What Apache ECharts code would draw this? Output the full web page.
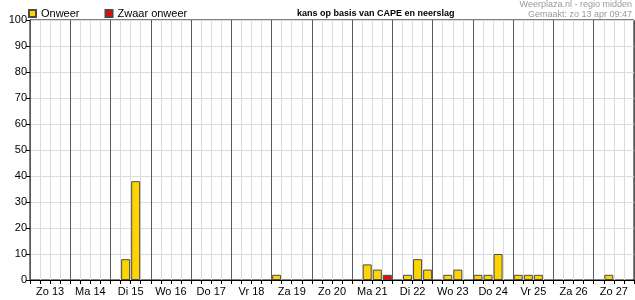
<!DOCTYPE html>
<html>
<head>
<meta charset="utf-8">
<script src="https://cdn.jsdelivr.net/npm/echarts@6/dist/echarts.min.js"></script>
<style>html,body{margin:0;padding:0;background:#fff}#c{width:635px;height:300px}</style>
</head>
<body>
<div id="c"></div>
<script>
// Day labels (each day = 4 six-hour slots)
const days = ['Zo 13','Ma 14','Di 15','Wo 16','Do 17','Vr 18','Za 19','Zo 20','Ma 21','Di 22','Wo 23','Do 24','Vr 25','Za 26','Zo 27'];
const slotsPerDay = 4;
// Onweer (%) per 6-hour slot, 60 slots
const onweer = [
  0,0,0,0,  0,0,0,0,  0,8,38,0,  0,0,0,0,  0,0,0,0,
  0,0,0,0,  2,0,0,0,  0,0,0,0,  0,6,4,0,  0,2,8,4,
  0,2,4,0,  2,2,10,0, 2,2,2,0,  0,0,0,0,  0,2,0,0
];
// Zwaar onweer (%) per 6-hour slot
const zwaar = [
  0,0,0,0,  0,0,0,0,  0,0,0,0,  0,0,0,0,  0,0,0,0,
  0,0,0,0,  0,0,0,0,  0,0,0,0,  0,0,0,2,  0,0,0,0,
  0,0,0,0,  0,0,0,0,  0,0,0,0,  0,0,0,0,  0,0,0,0
];
const yTicks = {min: 0, max: 100, interval: 10};
const titleText = 'kans op basis van CAPE en neerslag';
const sourceText = 'Weerplaza.nl - regio midden';
const madeText = 'Gemaakt: zo 13 apr 09:47';

const slots = [];
for (let i = 0; i < days.length * slotsPerDay; i++) slots.push(String(i));

const FONT = "'Liberation Sans', Arial, sans-serif";
const chart = echarts.init(document.getElementById('c'), null, {renderer: 'canvas'});
chart.setOption({
  animation: false,
  textStyle: {fontFamily: FONT},
  title: [
    {text: titleText, left: 297, top: 9, padding: 0, textStyle: {fontSize: 9, fontWeight: 'bold', color: '#000', fontFamily: FONT}},
    {text: sourceText, right: 3, top: 0, padding: 0, textStyle: {fontSize: 9, fontWeight: 'normal', color: '#9a9a9a', fontFamily: FONT}},
    {text: madeText, right: 3, top: 10, padding: 0, textStyle: {fontSize: 9, fontWeight: 'normal', color: '#9a9a9a', fontFamily: FONT}}
  ],
  legend: {
    left: 23, top: 6, padding: [2, 5],
    itemWidth: 7, itemHeight: 7, itemGap: 25,
    icon: 'rect',
    textStyle: {fontSize: 11, color: '#000', fontFamily: FONT},
    data: ['Onweer', 'Zwaar onweer']
  },
  grid: {left: 30, top: 20, width: 604, height: 260, show: true, borderColor: '#000', borderWidth: 1, backgroundColor: 'transparent', containLabel: false},
  xAxis: [
    {
      type: 'category', data: slots, boundaryGap: true,
      axisLine: {show: true, lineStyle: {color: '#000', width: 1}},
      axisTick: {show: true, interval: 0, length: 4, lineStyle: {color: '#000'}},
      axisLabel: {show: false},
      splitLine: {show: true, interval: 0, lineStyle: {color: '#dcdcdc', width: 1}}
    },
    {
      type: 'category', data: days, boundaryGap: true, position: 'bottom', offset: 0, z: 1,
      axisLine: {show: false}, axisTick: {show: false},
      axisLabel: {show: true, interval: 0, margin: 6, fontSize: 11, color: '#000', fontFamily: FONT},
      splitLine: {show: true, interval: 0, lineStyle: {color: '#5a5a5a', width: 1}}
    }
  ],
  yAxis: {
    type: 'value', min: yTicks.min, max: yTicks.max, interval: yTicks.interval,
    axisLine: {show: true, lineStyle: {color: '#000'}},
    axisTick: {show: true, length: 4, lineStyle: {color: '#000'}},
    axisLabel: {fontSize: 11, color: '#000', margin: 3, fontFamily: FONT},
    splitLine: {show: true, lineStyle: {color: '#dcdcdc', width: 1}}
  },
  series: [
    {
      name: 'Onweer', type: 'bar', xAxisIndex: 0, stack: 'k', barWidth: 9,
      itemStyle: {color: '#FFD500', borderColor: '#4a4a4a', borderWidth: 1},
      data: onweer.map(v => v > 0 ? v : null)
    },
    {
      name: 'Zwaar onweer', type: 'bar', xAxisIndex: 0, stack: 'k', barWidth: 9,
      itemStyle: {color: '#FF0000', borderColor: '#4a4a4a', borderWidth: 1},
      data: zwaar.map(v => v > 0 ? v : null)
    }
  ]
});
</script>
</body>
</html>
